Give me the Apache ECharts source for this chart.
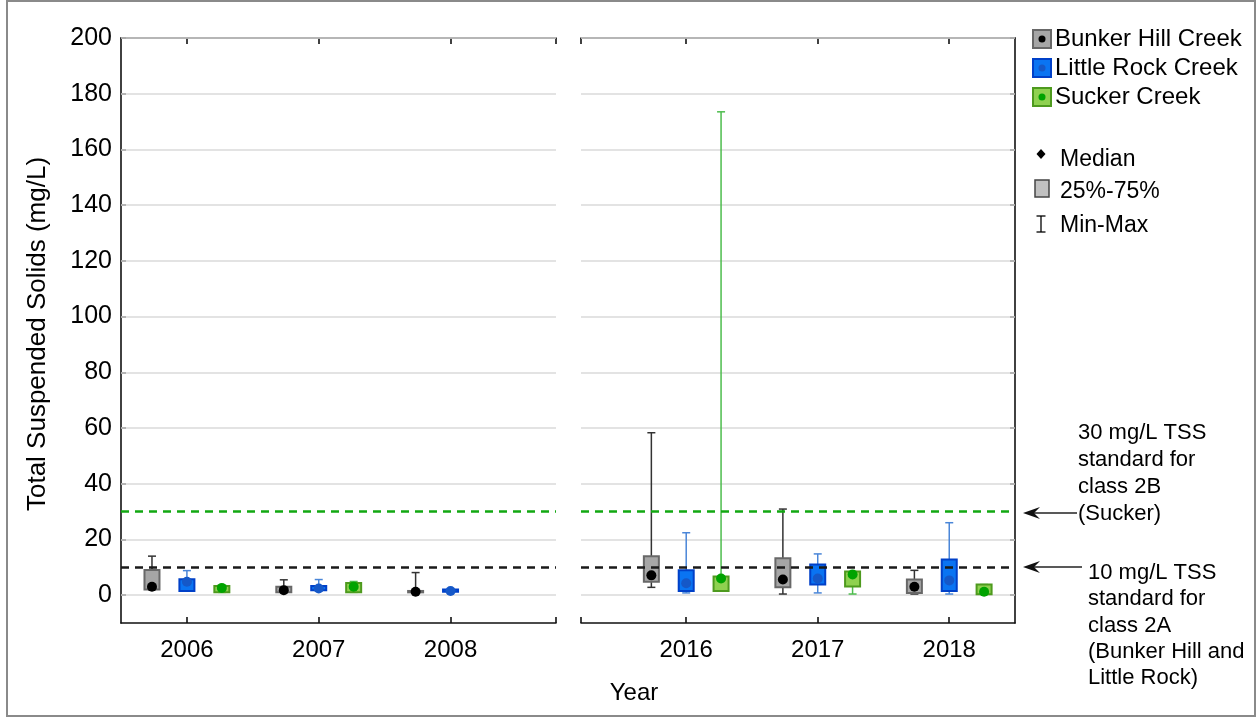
<!DOCTYPE html>
<html>
<head>
<meta charset="utf-8">
<script src="https://cdn.jsdelivr.net/npm/echarts@6/dist/echarts.min.js"></script>
<style>html,body{margin:0;padding:0;background:#fff;}#c{width:1257px;height:717px;}</style>
</head>
<body>
<div id="c"></div>
<script>
// ---------- DATA ----------
const yearsLeft = [2006, 2007, 2008];
const yearsRight = [2016, 2017, 2018];
const yTicks = [0, 20, 40, 60, 80, 100, 120, 140, 160, 180, 200];
const sites = ['Bunker Hill Creek', 'Little Rock Creek', 'Sucker Creek'];
// rows: [min, q1, median, q3, max] for 2006, 2007, 2008, 2016, 2017, 2018
const bunkerHill = [[2, 2, 3, 9, 14], [1, 1, 1.8, 3, 5.5], [0.8, 1, 1.2, 1.5, 8.1],
                    [2.8, 4.8, 7.1, 14, 58.3], [0.4, 2.8, 5.6, 13.2, 30.9], [0.4, 0.8, 3.0, 5.6, 8.9]];
const littleRock = [[1.5, 1.5, 4.8, 5.7, 8.8], [1.5, 1.8, 2.4, 3.3, 5.6], [1.2, 1.2, 1.5, 2.0, 2.0],
                    [0.8, 1.5, 4.3, 8.9, 22.4], [0.8, 3.8, 6.0, 11.0, 14.8], [0.4, 1.5, 5.3, 12.8, 26.0]];
const suckerCreek = [[1.0, 1.0, 2.6, 3.3, 3.3], [1.0, 1.0, 3.0, 4.4, 4.9], null,
                     [1.5, 1.5, 6.0, 6.7, 173.5], [0.4, 3.1, 7.4, 8.5, 8.5], [0.3, 0.3, 1.2, 3.8, 3.8]];
const standards = [10, 30];
const allYears = yearsLeft.concat(yearsRight);

// ---------- STYLE ----------
const FONT = "'Liberation Sans', Arial, sans-serif";
const siteStyles = [
  { fill: '#a6a6a6', stroke: '#686868', dot: '#000000', whisker: '#333333', offset: -0.265 },
  { fill: '#0a74f2', stroke: '#0040c8', dot: '#1558c8', whisker: '#4a86d8', offset: 0 },
  { fill: '#8fd150', stroke: '#4e9a1e', dot: '#00a300', whisker: '#4dbd4d', offset: 0.265 }
];
const siteData = [bunkerHill, littleRock, suckerCreek];

function makeRender(st) {
  return function (params, api) {
    const x = api.value(0) + st.offset;
    const pMin = api.coord([x, api.value(1)]);
    const pQ1 = api.coord([x, api.value(2)]);
    const pMed = api.coord([x, api.value(3)]);
    const pQ3 = api.coord([x, api.value(4)]);
    const pMax = api.coord([x, api.value(5)]);
    const cx = pMed[0], hw = 7.5, cw = 4;
    return {
      type: 'group',
      children: [
        { type: 'line', shape: { x1: cx, y1: pMin[1], x2: cx, y2: pMax[1] }, style: { stroke: st.whisker, lineWidth: 1.5 } },
        { type: 'line', shape: { x1: cx - cw, y1: pMax[1], x2: cx + cw, y2: pMax[1] }, style: { stroke: st.whisker, lineWidth: 1.5 } },
        { type: 'line', shape: { x1: cx - cw, y1: pMin[1], x2: cx + cw, y2: pMin[1] }, style: { stroke: st.whisker, lineWidth: 1.5 } },
        { type: 'rect', shape: { x: cx - hw, y: pQ3[1], width: 2 * hw, height: Math.max(pQ1[1] - pQ3[1], 1) },
          style: { fill: st.fill, stroke: st.stroke, lineWidth: 2 } },
        { type: 'circle', shape: { cx: cx, cy: pMed[1], r: 5 }, style: { fill: st.dot } }
      ]
    };
  };
}

const series = [];
[0, 1].forEach(function (g) {
  series.push({
    type: 'line', xAxisIndex: g * 2, yAxisIndex: g, data: [], silent: true, z: 1,
    markLine: { silent: true, symbol: 'none', label: { show: false }, animation: false,
      lineStyle: { color: '#dadada', width: 1.5, type: 'solid' },
      data: yTicks.map(function (v) { return { yAxis: v }; }) }
  });
  series.push({
    type: 'line', xAxisIndex: g * 2, yAxisIndex: g, data: [], silent: true, z: 10,
    markLine: { silent: true, symbol: 'none', label: { show: false }, animation: false, z: 10,
      data: [
        { yAxis: standards[0], lineStyle: { color: '#1a1a1a', width: 2.5, type: [8, 6] } },
        { yAxis: standards[1], lineStyle: { color: '#12a812', width: 2.5, type: [8, 6] } }
      ] }
  });
  siteData.forEach(function (rows, s) {
    const yrs = g === 0 ? yearsLeft : yearsRight;
    const data = [];
    yrs.forEach(function (yr) {
      const r = rows[allYears.indexOf(yr)];
      if (r) data.push([yr].concat(r));
    });
    series.push({
      type: 'custom', name: sites[s], xAxisIndex: g * 2, yAxisIndex: g, z: 5,
      renderItem: makeRender(siteStyles[s]),
      encode: { x: 0, y: [1, 2, 3, 4, 5] },
      data: data
    });
  });
});

const axisLineStyle = { color: '#111111', width: 1.6 };
function xAxes(gi, min, max, yrs, capVal) {
  return [
    { type: 'value', gridIndex: gi, position: 'bottom', min: min, max: max,
      axisLine: { show: true, onZero: false, lineStyle: axisLineStyle },
      axisTick: { show: true, inside: true, length: 6, lineStyle: axisLineStyle, customValues: yrs.concat([capVal]) },
      axisLabel: { show: true, customValues: yrs, color: '#000', fontSize: 24, fontFamily: FONT, margin: 15, formatter: function (v) { return String(Math.round(v)); } },
      splitLine: { show: false } },
    { type: 'value', gridIndex: gi, position: 'top', min: min, max: max,
      axisLine: { show: true, onZero: false, lineStyle: axisLineStyle },
      axisTick: { show: true, inside: true, length: 6, lineStyle: axisLineStyle, customValues: yrs.concat([capVal]) },
      axisLabel: { show: false },
      splitLine: { show: false } }
  ];
}

const option = {
  animation: false,
  backgroundColor: '#ffffff',
  grid: [
    { left: 121, top: 38, width: 435, height: 585 },
    { left: 581, top: 38, width: 434, height: 585 }
  ],
  xAxis: xAxes(0, 2005.5, 2008.8, yearsLeft, 2008.8).concat(xAxes(1, 2015.2, 2018.5, yearsRight, 2015.2)),
  yAxis: [
    { type: 'value', gridIndex: 0, position: 'left', min: -10, max: 200,
      axisLine: { show: true, lineStyle: axisLineStyle },
      axisTick: { show: true, inside: true, length: 5, lineStyle: axisLineStyle, customValues: yTicks },
      axisLabel: { show: true, customValues: yTicks, color: '#000', fontSize: 25, fontFamily: FONT, margin: 9 },
      splitLine: { show: false } },
    { type: 'value', gridIndex: 1, position: 'right', min: -10, max: 200,
      axisLine: { show: true, lineStyle: axisLineStyle },
      axisTick: { show: true, inside: true, length: 5, lineStyle: axisLineStyle, customValues: yTicks },
      axisLabel: { show: false },
      splitLine: { show: false } }
  ],
  series: series,
  graphic: [
    { type: 'rect', shape: { x: 7, y: 1, width: 1248, height: 715 }, style: { fill: 'none', stroke: '#8a8a8a', lineWidth: 2 }, silent: true },
    { type: 'text', x: 38, y: 334, rotation: Math.PI / 2,
      style: { text: 'Total Suspended Solids (mg/L)', font: '26px ' + FONT, fill: '#000', align: 'center', verticalAlign: 'middle' } },
    { type: 'text', x: 634, y: 693,
      style: { text: 'Year', font: '24px ' + FONT, fill: '#000', align: 'center', verticalAlign: 'middle' } },
    // legend - sites
    { type: 'rect', shape: { x: 1033, y: 30, width: 18, height: 18 }, style: { fill: siteStyles[0].fill, stroke: siteStyles[0].stroke, lineWidth: 2 } },
    { type: 'circle', shape: { cx: 1042, cy: 39, r: 3.5 }, style: { fill: siteStyles[0].dot } },
    { type: 'text', x: 1055, y: 39, style: { text: sites[0], font: '24px ' + FONT, fill: '#000', verticalAlign: 'middle' } },
    { type: 'rect', shape: { x: 1033, y: 59, width: 18, height: 18 }, style: { fill: siteStyles[1].fill, stroke: siteStyles[1].stroke, lineWidth: 2 } },
    { type: 'circle', shape: { cx: 1042, cy: 68, r: 3.5 }, style: { fill: siteStyles[1].dot } },
    { type: 'text', x: 1055, y: 68, style: { text: sites[1], font: '24px ' + FONT, fill: '#000', verticalAlign: 'middle' } },
    { type: 'rect', shape: { x: 1033, y: 88, width: 18, height: 18 }, style: { fill: siteStyles[2].fill, stroke: siteStyles[2].stroke, lineWidth: 2 } },
    { type: 'circle', shape: { cx: 1042, cy: 97, r: 3.5 }, style: { fill: siteStyles[2].dot } },
    { type: 'text', x: 1055, y: 97, style: { text: sites[2], font: '24px ' + FONT, fill: '#000', verticalAlign: 'middle' } },
    // legend - stats
    { type: 'polygon', shape: { points: [[1041, 149], [1045.5, 154], [1041, 159], [1036.5, 154]] }, style: { fill: '#000' } },
    { type: 'text', x: 1060, y: 160, style: { text: 'Median', font: '23px ' + FONT, fill: '#000', verticalAlign: 'middle' } },
    { type: 'rect', shape: { x: 1035, y: 180, width: 14, height: 17 }, style: { fill: '#c0c0c0', stroke: '#444', lineWidth: 1.5 } },
    { type: 'text', x: 1060, y: 192, style: { text: '25%-75%', font: '23px ' + FONT, fill: '#000', verticalAlign: 'middle' } },
    { type: 'polyline', shape: { points: [[1041, 216], [1041, 232]] }, style: { stroke: '#000', lineWidth: 1.3 } },
    { type: 'polyline', shape: { points: [[1036.5, 216], [1045.5, 216]] }, style: { stroke: '#000', lineWidth: 1.3 } },
    { type: 'polyline', shape: { points: [[1036.5, 232], [1045.5, 232]] }, style: { stroke: '#000', lineWidth: 1.3 } },
    { type: 'text', x: 1060, y: 226, style: { text: 'Min-Max', font: '23px ' + FONT, fill: '#000', verticalAlign: 'middle' } },
    // annotations
    { type: 'text', x: 1078, y: 419, style: { text: '30 mg/L TSS\nstandard for\nclass 2B\n(Sucker)', font: '22px ' + FONT, lineHeight: 27, fill: '#000', verticalAlign: 'top' } },
    { type: 'polyline', shape: { points: [[1077, 513], [1026, 513]] }, style: { stroke: '#222', lineWidth: 1.5 } },
    { type: 'polygon', shape: { points: [[1023, 513], [1040, 507], [1034, 513], [1040, 519]] }, style: { fill: '#111' } },
    { type: 'text', x: 1088, y: 560, style: { text: '10 mg/L TSS\nstandard for\nclass 2A\n(Bunker Hill and\nLittle Rock)', font: '22px ' + FONT, lineHeight: 26.2, fill: '#000', verticalAlign: 'top' } },
    { type: 'polyline', shape: { points: [[1082, 567], [1026, 567]] }, style: { stroke: '#222', lineWidth: 1.5 } },
    { type: 'polygon', shape: { points: [[1023, 567], [1040, 561], [1034, 567], [1040, 573]] }, style: { fill: '#111' } }
  ]
};
const chart = echarts.init(document.getElementById('c'), null, { renderer: 'canvas' });
chart.setOption(option);
</script>
</body>
</html>
